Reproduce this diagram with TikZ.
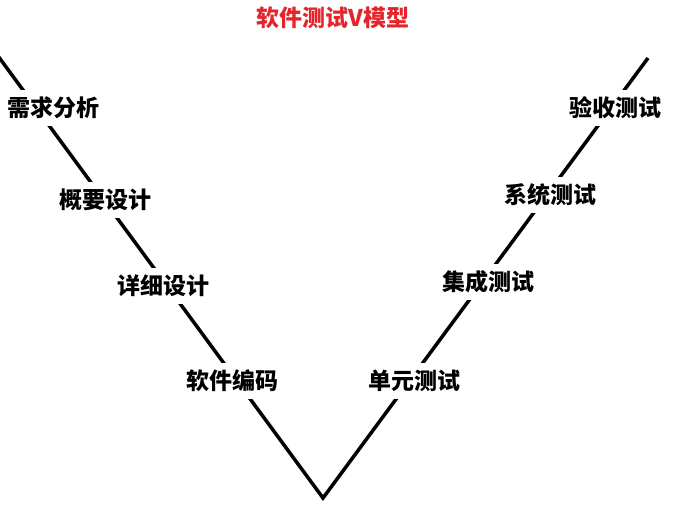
\documentclass[tikz,border=0pt]{standalone}
\usepackage{fontspec}
\setmainfont{Noto Sans CJK SC}
\usepackage{tikz}
\usetikzlibrary{positioning}
\definecolor{titlered}{HTML}{E3262B}

\begin{document}
\begin{tikzpicture}[x=1pt, y=-1pt, every node/.style={font=\fontsize{23}{26}\selectfont\bfseries, align=center},
  stage/.style={fill=white, inner xsep=2pt, inner ysep=7pt}]
  \useasboundingbox (0,0) rectangle (676,516);
  \coordinate (lefttop) at (-2,56);
  \coordinate (bottom) at (323,498);
  \coordinate (righttop) at (648,58);
  \draw[line width=3.5pt] (lefttop) -- (bottom) -- (righttop);

  \node[text=titlered] (title) at (333,18) {软件测试V模型};

  \node[stage] (req) at (53,108) {需求分析};
  \node[stage] (outline) at (105,200) {概要设计};
  \node[stage] (detail) at (163,286) {详细设计};
  \node[stage] (coding) at (232,381) {软件编码};
  \node[stage] (unit) at (414,381) {单元测试};
  \node[stage] (integ) at (488,282) {集成测试};
  \node[stage] (system) at (550,195) {系统测试};
  \node[stage] (accept) at (615,108) {验收测试};
\end{tikzpicture}
\end{document}
